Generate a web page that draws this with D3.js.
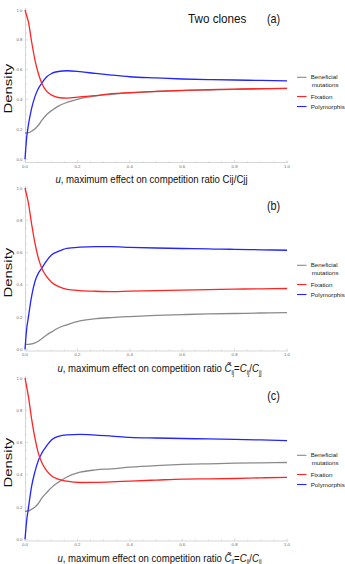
<!DOCTYPE html>
<html>
<head>
<meta charset="utf-8">
<script src="https://cdn.jsdelivr.net/npm/d3@7"></script>
<style>
  body { margin: 0; background: #fff; }
  svg { display: block; font-family: "Liberation Sans", Arial, sans-serif; }
</style>
</head>
<body>
<script>
// shared u grid
var uVals = [0, 0.006, 0.013, 0.025, 0.038, 0.051, 0.064, 0.083, 0.102, 0.127, 0.16, 0.21, 0.27, 0.33, 0.4, 0.5, 0.6, 0.7, 0.8, 0.9, 1.0];

// panel (a)
var benefA = [0.176, 0.176, 0.178, 0.188, 0.205, 0.228, 0.26, 0.30, 0.327, 0.356, 0.381, 0.407, 0.425, 0.435, 0.445, 0.454, 0.46, 0.465, 0.468, 0.472, 0.475];
var fixA   = [1.0, 0.965, 0.92, 0.79, 0.665, 0.575, 0.51, 0.455, 0.43, 0.414, 0.41, 0.418, 0.426, 0.44, 0.447, 0.455, 0.462, 0.466, 0.47, 0.473, 0.475];
var polyA  = [0, 0.14, 0.23, 0.34, 0.42, 0.474, 0.51, 0.553, 0.575, 0.588, 0.593, 0.587, 0.575, 0.564, 0.553, 0.545, 0.538, 0.534, 0.531, 0.528, 0.525];

// panel (b)
var benefB = [0.03, 0.03, 0.03, 0.033, 0.04, 0.05, 0.066, 0.089, 0.108, 0.132, 0.152, 0.176, 0.19, 0.197, 0.203, 0.21, 0.215, 0.219, 0.222, 0.225, 0.227];
var fixB   = [1.0, 0.96, 0.907, 0.78, 0.658, 0.565, 0.503, 0.45, 0.414, 0.39, 0.372, 0.364, 0.36, 0.358, 0.361, 0.364, 0.367, 0.37, 0.373, 0.375, 0.377];
var polyB  = [0, 0.12, 0.2, 0.327, 0.42, 0.472, 0.503, 0.55, 0.586, 0.607, 0.626, 0.633, 0.636, 0.636, 0.632, 0.628, 0.625, 0.622, 0.62, 0.617, 0.614];

// panel (c)
var benefC = [0.174, 0.174, 0.176, 0.186, 0.2, 0.222, 0.255, 0.29, 0.322, 0.353, 0.386, 0.416, 0.43, 0.437, 0.447, 0.457, 0.464, 0.468, 0.472, 0.474, 0.476];
var fixC   = [1.0, 0.95, 0.886, 0.75, 0.627, 0.534, 0.476, 0.424, 0.393, 0.373, 0.36, 0.352, 0.353, 0.356, 0.361, 0.367, 0.373, 0.375, 0.377, 0.381, 0.384];
var polyC  = [0, 0.11, 0.193, 0.327, 0.42, 0.489, 0.534, 0.58, 0.617, 0.638, 0.648, 0.65, 0.646, 0.64, 0.632, 0.628, 0.625, 0.622, 0.619, 0.616, 0.612];

var xTicks = [0, 0.2, 0.4, 0.6, 0.8, 1.0];
var yTicks = [0, 0.2, 0.4, 0.6, 0.8, 1.0];
var seriesNames = ["Beneficial", "Fixation", "Polymorphis"];
var colours = ["#8a8a8a", "#ff2424", "#2424ff"];

var w = 345, h = 564;

var panels = [
  {top: 10,  bottom: 159.3, axisY: 162.5, labelY: 183,   tagY: 22.5,  legY: 76.5,  tag: "(a)", title: "Two clones", tilde: false, data: [benefA, fixA, polyA]},
  {top: 188, bottom: 349.3, axisY: 351,   labelY: 372,   tagY: 209.5, legY: 264.5, tag: "(b)", title: null, tilde: true, data: [benefB, fixB, polyB]},
  {top: 378, bottom: 539.3, axisY: 541,   labelY: 561.5, tagY: 399.5, legY: 454.5, tag: "(c)", title: null, tilde: true, data: [benefC, fixC, polyC]}
];

var svg = d3.select("body")
  .append("svg")
  .attr("width", w)
  .attr("height", h);

var xScale = d3.scaleLinear().domain([0, 1]).range([25, 287]);

panels.forEach(function(p) {
  var yScale = d3.scaleLinear().domain([0, 1]).range([p.bottom, p.top]);
  var g = svg.append("g");

  // frame lines
  g.append("line")
    .attr("x1", 25.5).attr("x2", 25.5)
    .attr("y1", p.top - 2).attr("y2", p.axisY)
    .attr("stroke", "#c4c4c4").attr("stroke-width", 0.7);
  g.append("line")
    .attr("x1", 25.5).attr("x2", 288)
    .attr("y1", p.axisY).attr("y2", p.axisY)
    .attr("stroke", "#c4c4c4").attr("stroke-width", 0.7);

  // ticks
  var minor = d3.range(0, 1.0001, 0.05);
  minor.forEach(function(t) {
    var major = Math.abs(Math.round(t * 5) - t * 5) < 1e-6;
    var len = major ? 2.5 : 1.4;
    g.append("line")
      .attr("x1", xScale(t)).attr("x2", xScale(t))
      .attr("y1", p.axisY).attr("y2", p.axisY - len)
      .attr("stroke", "#bdbdbd").attr("stroke-width", 0.5);
    g.append("line")
      .attr("x1", 25.5).attr("x2", 25.5 + len)
      .attr("y1", yScale(t)).attr("y2", yScale(t))
      .attr("stroke", "#bdbdbd").attr("stroke-width", 0.5);
  });

  g.selectAll(".xt").data(xTicks).enter().append("text")
    .attr("x", function(d) { return xScale(d); })
    .attr("y", p.axisY + 5.2)
    .attr("text-anchor", "middle")
    .attr("font-size", 4.3)
    .attr("fill", "#666")
    .text(function(d) { return d3.format(".1f")(d); });

  g.selectAll(".yt").data(yTicks).enter().append("text")
    .attr("x", 22.5)
    .attr("y", function(d) { return yScale(d) + 1.5; })
    .attr("text-anchor", "end")
    .attr("font-size", 4.3)
    .attr("fill", "#666")
    .text(function(d) { return d3.format(".1f")(d); });

  // curves
  var line = d3.line()
    .x(function(d, i) { return xScale(uVals[i]); })
    .y(function(d) { return yScale(d); })
    .curve(d3.curveMonotoneX);

  [0, 2, 1].forEach(function(k) {
    g.append("path")
      .attr("d", line(p.data[k]))
      .attr("fill", "none")
      .attr("stroke", colours[k])
      .attr("stroke-width", 1.3);
  });

  // Density label
  g.append("text")
    .attr("transform", "translate(12," + ((p.top + p.bottom) / 2 + 4) + ") rotate(-90) scale(1.3,1)")
    .attr("text-anchor", "middle")
    .attr("font-size", 11.5)
    .attr("fill", "#111")
    .text("Density");

  // x label
  var xl = g.append("text")
    .attr("transform", "translate(" + (p.tilde ? 159.5 : 151.5) + "," + p.labelY + ") scale(1,1.15)")
    .attr("text-anchor", "middle")
    .attr("font-size", 9.6)
    .attr("fill", "#111");
  xl.append("tspan").attr("font-style", "italic").text("u");
  if (!p.tilde) {
    xl.append("tspan").text(", maximum effect on competition ratio Cij/Cjj");
  } else {
    xl.append("tspan").text(", maximum effect on competition ratio ");
    xl.append("tspan").attr("font-style", "italic").text("C\u0303");
    xl.append("tspan").attr("font-size", 6).attr("dy", 2.5).text("ij");
    xl.append("tspan").attr("dy", -2.5).text("=");
    xl.append("tspan").attr("font-style", "italic").text("C");
    xl.append("tspan").attr("font-size", 6).attr("dy", 2.5).text("ij");
    xl.append("tspan").attr("dy", -2.5).text("/");
    xl.append("tspan").attr("font-style", "italic").text("C");
    xl.append("tspan").attr("font-size", 6).attr("dy", 2.5).text("jj");
  }

  // title and tag
  if (p.title) {
    g.append("text")
      .attr("transform", "translate(188," + p.tagY + ") scale(1,1.1)")
      .attr("font-size", 11.7)
      .attr("fill", "#111")
      .text(p.title);
  }
  g.append("text")
    .attr("transform", "translate(273.5," + p.tagY + ") scale(1,1.1)")
    .attr("text-anchor", "middle")
    .attr("font-size", 10.8)
    .attr("fill", "#111")
    .text(p.tag);

  // legend
  var rows = [p.legY, p.legY + 20, p.legY + 30];
  seriesNames.forEach(function(name, k) {
    g.append("line")
      .attr("x1", 297).attr("x2", 306.5)
      .attr("y1", rows[k] + (k === 0 ? 0.8 : 0)).attr("y2", rows[k] + (k === 0 ? 0.8 : 0))
      .attr("stroke", colours[k]).attr("stroke-width", 1.1);
    g.append("text")
      .attr("x", 310.7).attr("y", rows[k] + 2.2)
      .attr("font-size", 6.2)
      .attr("fill", "#222")
      .text(name);
  });
  g.append("text")
    .attr("x", 311.7).attr("y", p.legY + 8.7 + 2.2)
    .attr("font-size", 6.2)
    .attr("fill", "#222")
    .text("mutations");
});
</script>
</body>
</html>
